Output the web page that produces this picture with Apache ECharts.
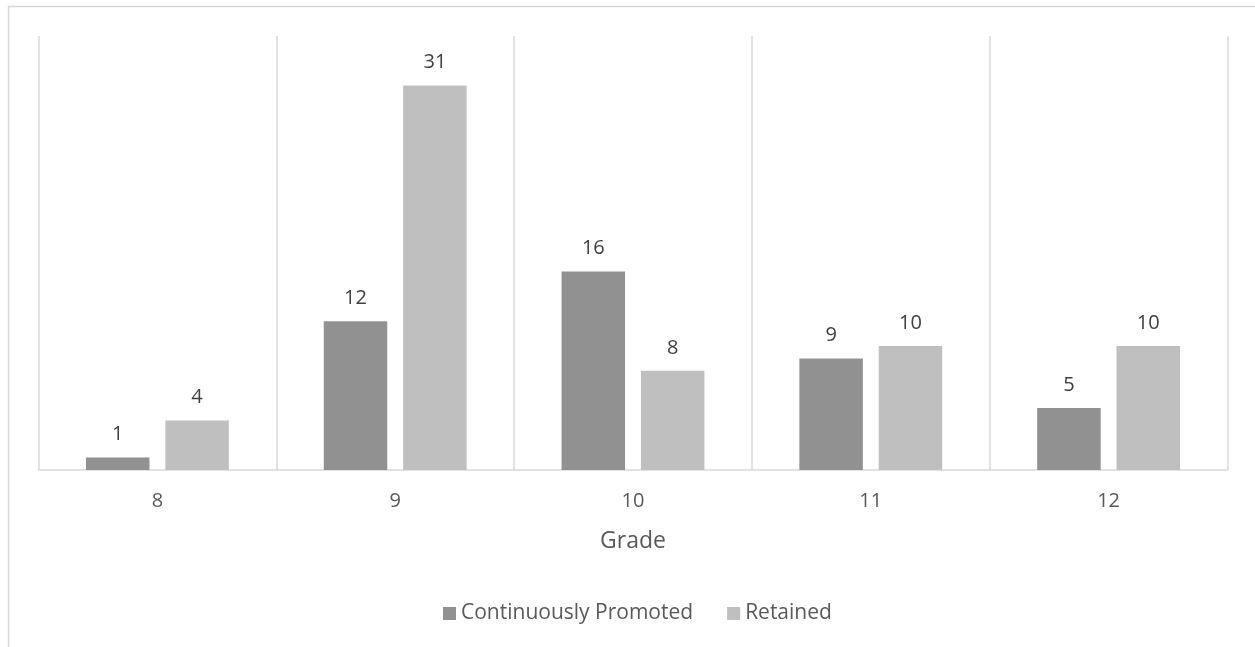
<!DOCTYPE html>
<html>
<head>
<meta charset="utf-8">
<script src="https://cdn.jsdelivr.net/npm/echarts@6/dist/echarts.min.js"></script>
<style>
html,body{margin:0;padding:0;background:#fff;}
#c{width:1255px;height:647px;}
</style>
</head>
<body>
<div id="c"></div>
<script>
const categories = ['8', '9', '10', '11', '12'];
const promoted = [1, 12, 16, 9, 5];
const retained = [4, 31, 8, 10, 10];
const seriesNames = ['Continuously Promoted', 'Retained'];

const FONT = '"Open Sans", sans-serif';
const chart = echarts.init(document.getElementById('c'));
const labelStyle = {
  show: true, position: 'top', distance: 13,
  color: '#404040', fontSize: 20, fontFamily: FONT
};
chart.setOption({
  animation: false,
  backgroundColor: '#ffffff',
  graphic: [{
    type: 'rect', silent: true,
    shape: {x: 8.5, y: 6.5, width: 2000, height: 2000},
    style: {fill: 'none', stroke: '#d9d9d9', lineWidth: 1.5}
  }],
  grid: {left: 38.5, right: 27.5, top: 36, bottom: 177, containLabel: false},
  legend: {
    data: seriesNames,
    bottom: 23, left: 443,
    padding: 0,
    itemWidth: 13, itemHeight: 13, itemGap: 34,
    icon: 'rect',
    textStyle: {color: '#595959', fontSize: 21, fontFamily: FONT}
  },
  xAxis: {
    type: 'category',
    data: categories,
    name: 'Grade',
    nameLocation: 'middle',
    nameGap: 60,
    nameTextStyle: {color: '#595959', fontSize: 23, fontFamily: FONT},
    axisLine: {lineStyle: {color: '#d9d9d9', width: 1.5}},
    axisTick: {show: false},
    axisLabel: {color: '#595959', fontSize: 20, fontFamily: FONT, margin: 21},
    splitLine: {show: true, showMinLine: true, showMaxLine: true, lineStyle: {color: '#d9d9d9', width: 1.5}}
  },
  yAxis: {
    type: 'value', min: 0, max: 35,
    axisLine: {show: false}, axisTick: {show: false},
    axisLabel: {show: false}, splitLine: {show: false}
  },
  series: [
    {
      name: seriesNames[0], type: 'bar', data: promoted,
      barWidth: '26.7%', barGap: '25%',
      itemStyle: {color: '#919191'},
      label: labelStyle
    },
    {
      name: seriesNames[1], type: 'bar', data: retained,
      barWidth: '26.7%', barGap: '25%',
      itemStyle: {color: '#bfbfbf'},
      label: labelStyle
    }
  ]
});
</script>
</body>
</html>
